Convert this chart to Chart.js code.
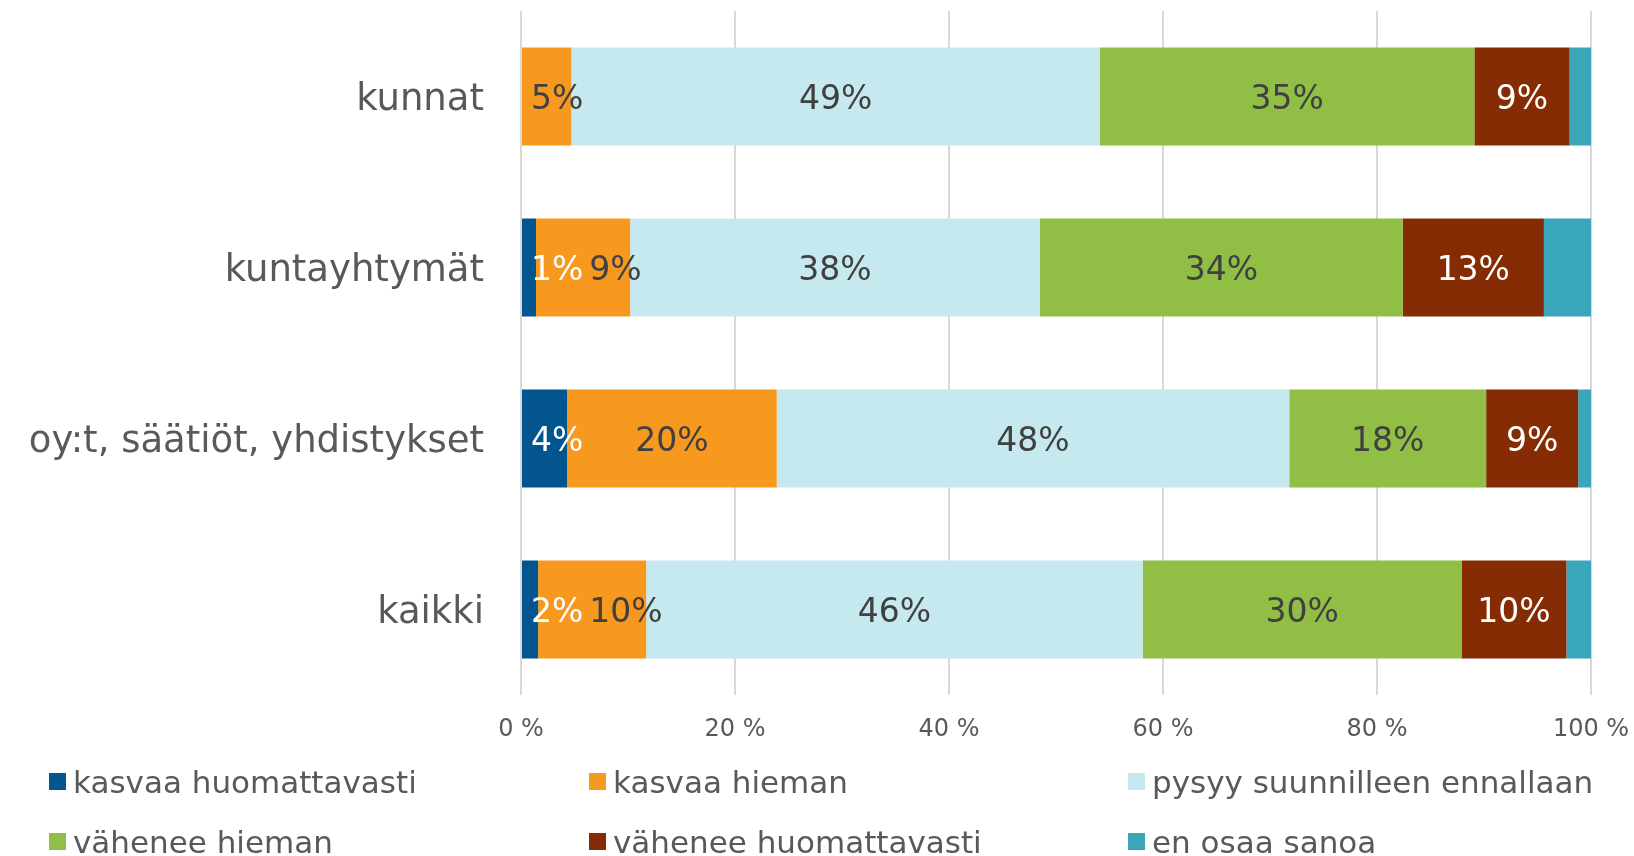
<!DOCTYPE html>
<html>
<head>
<meta charset="utf-8">
<script src="https://cdn.jsdelivr.net/npm/chart.js@4/dist/chart.umd.min.js"></script>
<style>
    html, body { margin: 0; padding: 0; background: #fff; overflow: hidden; }
    #wrap { position: relative; width: 1634px; height: 856px; }
    #legenda {
        position: absolute; left: 49px; top: 764px;
        display: grid; grid-template-columns: 540px 539px 500px; row-gap: 25px;
        font-family: "DejaVu Sans", sans-serif; font-size: 31px; color: #595959;
    }
    .item { display: flex; align-items: center; height: 35px; white-space: nowrap; }
    .laatikko { width: 17px; height: 17px; margin-right: 7px; flex: none; }
</style>
</head>
<body>
<div id="wrap">
    <canvas id="kaavio" width="1634" height="856"></canvas>
    <div id="legenda"></div>
</div>
<script>
// Kategoriat ja sarjat (%)
const kategoriat = ['kunnat', 'kuntayhtymät', 'oy:t, säätiöt, yhdistykset', 'kaikki'];
const kasvaaHuomattavasti = [0, 1.4, 4.3, 1.6];
const kasvaaHieman = [4.7, 8.8, 19.6, 10.1];
const pysyyEnnallaan = [49.4, 38.3, 47.9, 46.4];
const vaheneeHieman = [35.0, 33.9, 18.4, 29.8];
const vaheneeHuomattavasti = [8.9, 13.2, 8.6, 9.8];
const enOsaaSanoa = [2.0, 4.4, 1.2, 2.3];
const xTikit = [0, 20, 40, 60, 80, 100];

const data = {
    labels: kategoriat,
    datasets: [
        { label: 'kasvaa huomattavasti', data: kasvaaHuomattavasti, backgroundColor: '#02558f', tekstiVari: '#ffffff' },
        { label: 'kasvaa hieman', data: kasvaaHieman, backgroundColor: '#f8991f', tekstiVari: '#404040' },
        { label: 'pysyy suunnilleen ennallaan', data: pysyyEnnallaan, backgroundColor: '#c6e9ef', tekstiVari: '#404040' },
        { label: 'vähenee hieman', data: vaheneeHieman, backgroundColor: '#91be45', tekstiVari: '#404040' },
        { label: 'vähenee huomattavasti', data: vaheneeHuomattavasti, backgroundColor: '#852c05', tekstiVari: '#ffffff' },
        { label: 'en osaa sanoa', data: enOsaaSanoa, backgroundColor: '#3aa6ba', tekstiVari: null }
    ]
};

// Arvotekstit palkkien päälle, työnnetään oikealle jos menevät päällekkäin
const arvoTekstit = {
    id: 'arvoTekstit',
    afterDatasetsDraw(chart) {
        const ctx = chart.ctx;
        ctx.save();
        ctx.font = '33px "DejaVu Sans"';
        ctx.textBaseline = 'middle';
        ctx.textAlign = 'left';
        kategoriat.forEach((k, i) => {
            let edellinenOikea = chart.chartArea.left + 4;
            chart.data.datasets.forEach((ds, d) => {
                const v = ds.data[i];
                if (!ds.tekstiVari || !v) return;
                const bar = chart.getDatasetMeta(d).data[i];
                const teksti = Math.round(v) + '%';
                const w = ctx.measureText(teksti).width;
                const keski = (bar.x + bar.base) / 2;
                let vasen = Math.max(keski - w / 2, edellinenOikea + 6);
                ctx.fillStyle = ds.tekstiVari;
                ctx.fillText(teksti, vasen, bar.y + 4);
                edellinenOikea = vasen + w;
            });
        });
        ctx.restore();
    }
};

const config = {
    type: 'bar',
    data: data,
    options: {
        indexAxis: 'y',
        responsive: false,
        animation: false,
        layout: { padding: { top: 11, right: 43, bottom: 116, left: 0 } },
        datasets: { bar: { categoryPercentage: 1, barPercentage: 0.573 } },
        plugins: { legend: { display: false }, tooltip: { enabled: false } },
        scales: {
            x: {
                stacked: true, min: 0, max: 100,
                afterBuildTicks: (s) => { s.ticks = xTikit.map(v => ({ value: v })); },
                afterFit: (s) => { s.height = 45; s.paddingLeft = 0; s.paddingRight = 0; },
                grid: { color: '#d9d9d9', lineWidth: 2, drawTicks: false },
                border: { display: false },
                ticks: { padding: 20, color: '#595959', font: { family: 'DejaVu Sans', size: 24 }, callback: (v) => v + ' %' }
            },
            y: {
                stacked: true,
                afterFit: (s) => { s.width = 521; s.paddingTop = 0; s.paddingBottom = 0; },
                grid: { display: false, drawTicks: false },
                border: { display: false },
                ticks: { padding: 37, labelOffset: 4, color: '#595959', font: { family: 'DejaVu Sans', size: 37 } }
            }
        }
    },
    plugins: [arvoTekstit]
};

const kaavio = new Chart(document.getElementById('kaavio'), config);

// Selite kolmeen sarakkeeseen
const legenda = document.getElementById('legenda');
kaavio.data.datasets.forEach(ds => {
    const item = document.createElement('div');
    item.className = 'item';
    const box = document.createElement('span');
    box.className = 'laatikko';
    box.style.background = ds.backgroundColor;
    item.appendChild(box);
    item.appendChild(document.createTextNode(ds.label));
    legenda.appendChild(item);
});
</script>
</body>
</html>
